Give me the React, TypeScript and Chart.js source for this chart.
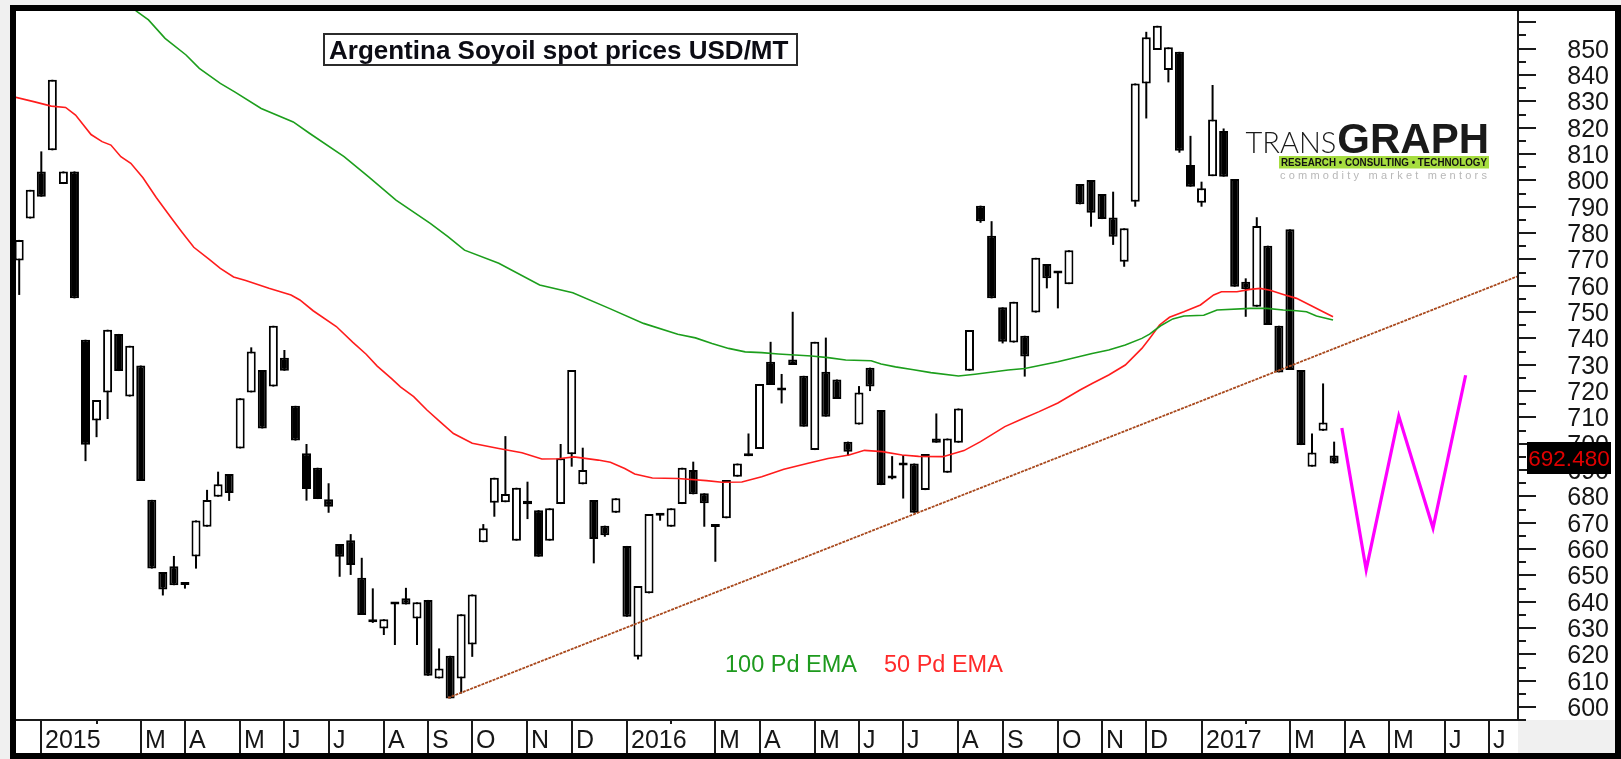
import React, { useEffect, useRef } from 'react';
import { Chart, registerables } from 'chart.js';

Chart.register(...registerables);

// ---------- DATA (weekly candles, index 0 = first week shown) ----------
const opens = [
  769.6, 785.5, 803.4, 811.4, 798.6, 803.4, 739.5, 708.8, 719.5, 741.7,
  717.9, 729.7, 678.7, 651.3, 653.5, 646.8, 657.2, 668.5, 679.9, 688.5,
  698.2, 719.5, 728.0, 721.7, 732.7, 714.4, 696.4, 690.9, 678.9, 661.9,
  663.4, 649.1, 632.6, 629.9, 639.2, 641.3, 633.7, 640.7, 610.9, 619.5,
  610.9, 623.8, 662.6, 677.6, 677.8, 663.2, 677.0, 674.8, 663.2, 677.1,
  696.0, 684.6, 678.6, 668.9, 673.8, 661.2, 619.1, 643.2, 673.6, 668.5,
  677.1, 690.0, 681.2, 668.6, 671.7, 687.5, 695.3, 698.0, 731.1, 720.2,
  732.0, 725.8, 697.6, 727.3, 724.4, 700.8, 707.3, 728.9, 712.8, 687.5,
  692.0, 692.5, 682.4, 702.0, 689.0, 700.4, 727.7, 790.4, 779.0, 751.8,
  738.4, 741.0, 749.8, 768.2, 765.0, 760.6, 798.6, 800.1, 794.8, 785.9,
  769.1, 791.9, 836.8, 849.5, 841.9, 848.8, 805.8, 791.5, 801.6, 818.7,
  800.5, 761.5, 752.0, 775.2, 744.8, 781.4, 728.0, 691.3, 704.9, 695.5,
];
const highs = [
  777.4, 796.4, 811.0, 838.2, 803.4, 803.4, 739.5, 716.6, 743.3, 741.7,
  737.2, 729.7, 678.7, 651.3, 657.4, 647.0, 670.9, 682.5, 689.4, 688.5,
  717.3, 736.6, 728.0, 744.8, 735.6, 714.4, 699.9, 690.9, 685.0, 661.9,
  665.7, 656.7, 645.1, 633.4, 639.3, 645.3, 639.8, 640.7, 622.3, 619.5,
  635.3, 642.8, 669.5, 687.1, 702.9, 683.3, 685.6, 674.8, 675.5, 699.9,
  728.0, 698.5, 678.6, 668.9, 679.3, 661.2, 646.0, 673.3, 673.6, 675.5,
  690.9, 693.2, 681.2, 668.6, 686.2, 692.5, 703.9, 722.7, 738.7, 726.5,
  750.1, 725.8, 738.7, 740.3, 724.4, 700.8, 721.9, 728.9, 712.8, 695.3,
  695.7, 692.5, 696.1, 711.5, 702.0, 713.4, 743.2, 790.4, 784.5, 751.8,
  753.9, 741.0, 770.6, 768.2, 765.2, 773.5, 798.6, 800.1, 794.8, 795.7,
  781.8, 836.8, 856.4, 858.7, 850.5, 848.8, 816.9, 799.5, 836.2, 819.7,
  800.5, 762.8, 786.0, 775.2, 744.8, 781.4, 728.0, 703.9, 722.9, 700.8,
];
const lows = [
  756.5, 785.5, 793.8, 811.4, 798.6, 755.2, 693.4, 702.5, 709.4, 727.6,
  717.9, 685.9, 652.6, 642.4, 646.3, 645.0, 652.6, 668.5, 679.9, 678.3,
  698.2, 719.5, 705.8, 721.7, 727.7, 701.2, 678.4, 679.0, 673.8, 649.5,
  650.2, 635.0, 632.0, 627.4, 623.6, 639.0, 623.6, 611.9, 610.9, 603.3,
  605.2, 619.1, 662.6, 672.3, 677.8, 663.2, 671.4, 657.1, 663.2, 677.1,
  691.3, 684.6, 654.6, 664.7, 673.8, 634.3, 618.1, 643.2, 670.8, 668.5,
  677.1, 680.8, 668.5, 655.2, 671.7, 687.5, 695.3, 698.0, 722.3, 715.3,
  729.9, 706.5, 697.6, 710.3, 717.0, 695.5, 707.3, 720.0, 684.3, 686.5,
  679.2, 673.8, 682.4, 700.4, 689.0, 700.4, 727.7, 783.9, 755.2, 738.1,
  738.4, 725.5, 749.8, 759.0, 751.4, 760.6, 790.9, 782.4, 785.3, 775.5,
  767.2, 790.0, 823.5, 849.5, 837.2, 810.5, 797.6, 790.0, 801.6, 801.4,
  759.6, 748.2, 752.0, 745.1, 727.1, 728.0, 699.5, 691.3, 704.9, 692.48,
];
const closes = [
  777.4, 796.4, 793.8, 838.2, 803.4, 755.2, 699.6, 716.6, 743.3, 727.6,
  737.2, 685.9, 652.6, 644.7, 646.3, 646.4, 670.9, 678.6, 684.6, 681.3,
  717.3, 735.0, 705.8, 744.8, 727.7, 701.2, 682.8, 679.0, 676.1, 657.1,
  654.0, 635.0, 632.2, 633.4, 639.0, 639.0, 639.8, 611.9, 614.7, 603.3,
  635.3, 642.8, 667.9, 687.1, 680.9, 683.3, 678.4, 657.1, 675.5, 694.5,
  728.0, 690.0, 663.8, 665.3, 679.3, 634.3, 646.0, 673.3, 672.7, 675.5,
  690.9, 680.8, 677.4, 668.4, 686.2, 692.5, 695.6, 722.7, 722.3, 720.6,
  729.9, 706.5, 738.7, 710.3, 717.0, 697.0, 719.5, 721.7, 684.3, 686.8,
  691.7, 673.8, 696.1, 700.4, 702.0, 713.4, 743.2, 784.5, 755.2, 738.7,
  753.9, 733.1, 770.6, 762.8, 764.6, 773.5, 790.9, 787.7, 785.3, 778.6,
  781.8, 836.8, 854.3, 858.7, 850.5, 811.2, 797.6, 797.0, 823.1, 801.4,
  759.6, 758.7, 782.7, 745.1, 727.1, 728.0, 699.5, 696.7, 708.1, 692.48,
];
const lastPrice = 692.48;

// 50 period EMA (red): [week index, value]
const ema50Points = [
  [-0.3, 831.5], [1.4, 829.8], [2.9, 828.2], [4.2, 827.7], [5.1, 824.8], [6.5, 817.4], [7.5, 814.7],
  [8.3, 813.4], [9.2, 809], [10.1, 806.5], [11.2, 801], [12.4, 793.5], [13.8, 785.5], [14.7, 780.5],
  [15.8, 774.6], [17.2, 770], [18.2, 766.6], [19.4, 763.3], [20.5, 762], [22.6, 759], [24.6, 756.5],
  [25.4, 754.6], [26.6, 750.5], [28.7, 744.5], [30.2, 738.5], [31.4, 734], [32.4, 729.5], [33.7, 724.7],
  [34.5, 721.6], [35.7, 717.9], [36.9, 712.8], [38.1, 708.3], [39.3, 703.9], [41, 700.2], [43.4, 698.2],
  [45.5, 696.6], [47.3, 694.2], [48.8, 694.3], [50.2, 695], [52.4, 693.8], [53.5, 693], [54.8, 690.6],
  [55.7, 688.5], [57.3, 687], [59.6, 686.8], [62.2, 686], [63.6, 685.4], [65.4, 685.5], [67.2, 687.5],
  [69.2, 690.3], [71.4, 692.6], [73.2, 694.4], [75.1, 695.7], [76.5, 697.5], [78.1, 697], [79.9, 695.7],
  [81.4, 695.2], [83.6, 695.1], [85.5, 697.4], [87, 700.8], [89.2, 706.5], [90.8, 709.5], [92.3, 712.2],
  [94, 715.5], [96, 720.4], [97.1, 722.9], [98.6, 726.1], [100.1, 729.9], [101.6, 736.2], [102.3, 740],
  [103.2, 745.1], [104.1, 748], [105.4, 750.1], [106.9, 752.7], [108.1, 756.5], [108.8, 757.7],
  [110.2, 757.7], [111.4, 758.6], [112.3, 759], [113.2, 758.3], [114.4, 756.7], [115.6, 755.2],
  [116.8, 752.7], [118, 750.1], [118.9, 748.2],
];
// 100 period EMA (green)
const ema100Points = [
  [9.4, 868], [10.7, 864], [11.7, 860.9], [13.2, 853.9], [15.1, 847.6], [16.3, 842.5], [18.2, 836.8],
  [19.5, 833.6], [21.9, 827.3], [24.8, 822.2], [26.3, 817.8], [29.4, 809], [31.6, 801.4], [34.1, 792.5],
  [37.2, 783.7], [38.8, 778.6], [40.3, 773.5], [43.4, 768.5], [47.1, 760.3], [50.1, 757.3], [53.4, 751.4],
  [56.5, 745.7], [59.6, 741.6], [61.2, 740.2], [62.7, 738.1], [64.2, 736.2], [65.7, 734.9], [67.2, 734.6],
  [68.7, 734.1], [70.2, 733.7], [71.7, 733.3], [73.2, 732.7], [74.8, 731.8], [77.1, 731.5], [78, 730.3],
  [79.3, 729.2], [80.8, 728.2], [82.5, 727], [85, 725.7], [86.5, 726.4], [89.5, 728], [91, 728.6],
  [94, 731.1], [97.1, 734.3], [98.6, 735.6], [100.1, 737.5], [101.6, 740], [102.3, 741.6], [103.3, 744.8],
  [104.4, 747.4], [105.4, 748.5], [107.2, 748.8], [108.4, 750.8], [111.4, 751.4], [112.9, 751.4],
  [114.4, 750.8], [115.6, 750.5], [116.5, 750.1], [117.4, 748.5], [118.9, 747],
];
// support trend line and projected "W" path
const trendPoints = [[38.8, 603.5], [135.55, 763.5]];
const wPoints = [[119.7, 706], [121.9, 652.2], [124.85, 710.5], [127.95, 668], [130.9, 726]];

// x-axis month ticks
const monthTickIdx = [2, 11, 15, 20, 24, 28, 33, 37, 41, 46, 50, 55, 63, 67, 72, 76, 80, 85, 89, 94, 98, 102, 107, 115, 120, 124, 129, 133];
const monthLabels = ['2015', 'M', 'A', 'M', 'J', 'J', 'A', 'S', 'O', 'N', 'D', '2016', 'M', 'A', 'M', 'J', 'J', 'A', 'S', 'O', 'N', 'D', '2017', 'M', 'A', 'M', 'J', 'J'];
const minorTickIdx = [7, 59, 111];
// y-axis labels
const yLabelValues = [600, 610, 620, 630, 640, 650, 660, 670, 680, 690, 700, 710, 720, 730, 740, 750, 760, 770, 780, 790, 800, 810, 820, 830, 840, 850];

const titleText = 'Argentina Soyoil spot prices USD/MT';
const ema100Label = '100 Pd EMA';
const ema50Label = '50 Pd EMA';

const FONT = '"Liberation Sans", Arial, Helvetica, sans-serif';

const W = 1621;
const H = 759;

const decorPlugin = {
  id: 'decor',
  beforeDraw(chart: any) {
    const { ctx, chartArea: ca } = chart;
    ctx.save();
    ctx.fillStyle = '#f0f0f0';
    ctx.fillRect(0, 0, W, H);
    ctx.fillStyle = '#000';
    ctx.fillRect(10, 5, W - 10, H - 5);
    ctx.fillStyle = '#fff';
    ctx.fillRect(16, 11, W - 6 - 16, H - 6 - 11);
    ctx.fillStyle = '#f0f0f0';
    ctx.fillRect(ca.right + 1, ca.bottom + 1, W - 6 - (ca.right + 1), H - 6 - (ca.bottom + 1));
    ctx.restore();
  },
  afterDraw(chart: any) {
    const { ctx, chartArea: ca, scales } = chart;
    const xs = scales.x;
    const ys = scales.y;
    ctx.save();
    ctx.strokeStyle = '#1a1a1a';
    ctx.fillStyle = '#1a1a1a';

    // axis lines
    ctx.lineWidth = 2;
    ctx.beginPath();
    ctx.moveTo(16, ca.bottom + 1);
    ctx.lineTo(ca.right + 2, ca.bottom + 1);
    ctx.stroke();
    ctx.beginPath();
    ctx.moveTo(ca.right + 1, ca.top);
    ctx.lineTo(ca.right + 1, ca.bottom + 2);
    ctx.stroke();

    // y ticks
    for (let v = 595; v <= 865; v += 5) {
      const y = Math.round(ys.getPixelForValue(v));
      if (y < ca.top + 2 || y > ca.bottom + 2) continue;
      const long = v % 10 === 0;
      ctx.beginPath();
      ctx.moveTo(ca.right, y);
      ctx.lineTo(ca.right + (long ? 19 : 9), y);
      ctx.stroke();
    }
    ctx.font = `25px ${FONT}`;
    ctx.textAlign = 'right';
    ctx.textBaseline = 'alphabetic';
    ctx.fillStyle = '#161616';
    for (const v of yLabelValues) {
      const y = ys.getPixelForValue(v);
      ctx.fillText(String(v), 1609, y + 9);
    }

    // x ticks
    ctx.textAlign = 'left';
    ctx.font = `25px ${FONT}`;
    monthTickIdx.forEach((idx, k) => {
      const x = Math.round(xs.getPixelForValue(idx));
      ctx.beginPath();
      ctx.moveTo(x, ca.bottom);
      ctx.lineTo(x, H - 6);
      ctx.stroke();
      ctx.fillText(monthLabels[k], x + 4, 748);
    });
    minorTickIdx.forEach((idx) => {
      const x = Math.round(xs.getPixelForValue(idx));
      ctx.beginPath();
      ctx.moveTo(x, ca.bottom);
      ctx.lineTo(x, ca.bottom + 5);
      ctx.stroke();
    });

    // title box
    ctx.fillStyle = '#fff';
    ctx.fillRect(323, 33, 475, 33);
    ctx.lineWidth = 2;
    ctx.strokeStyle = '#2b2b2b';
    ctx.strokeRect(324, 34, 473, 31);
    ctx.fillStyle = '#0c0c14';
    ctx.font = `bold 26px ${FONT}`;
    ctx.fillText(titleText, 329, 58.5, 463);

    // legend texts
    ctx.font = `23.5px ${FONT}`;
    ctx.fillStyle = '#1e9a1e';
    ctx.fillText(ema100Label, 725, 672);
    ctx.fillStyle = '#ff2a2a';
    ctx.fillText(ema50Label, 884, 672);

    // logo
    const logoRight = 1489;
    ctx.fillStyle = '#1a1a1a';
    ctx.textAlign = 'right';
    ctx.font = `bold 42px ${FONT}`;
    ctx.fillText('GRAPH', logoRight, 153);
    const gw = ctx.measureText('GRAPH').width;
    ctx.font = `300 29px Lato, "Open Sans", ${FONT}`;
    ctx.fillText('TRANS', logoRight - gw - 1, 152.5);
    ctx.textAlign = 'left';
    const bx = 1279;
    ctx.fillStyle = '#a6dd3f';
    ctx.fillRect(bx, 156, logoRight - bx, 12.5);
    ctx.fillStyle = '#111';
    ctx.font = `bold 10.5px ${FONT}`;
    ctx.fillText('RESEARCH \u2022 CONSULTING \u2022 TECHNOLOGY', bx + 2, 166.3, logoRight - bx - 4);
    ctx.fillStyle = '#b8b8b8';
    ctx.font = `11px ${FONT}`;
    const sub = 'commodity market mentors';
    const base = ctx.measureText(sub).width;
    const ls = Math.max(0, (logoRight - bx - 3 - base) / (sub.length - 1));
    (ctx as any).letterSpacing = `${ls.toFixed(2)}px`;
    ctx.fillText(sub, bx + 1, 178.5);
    (ctx as any).letterSpacing = '0px';

    // last price box
    ctx.fillStyle = '#000';
    ctx.fillRect(1527, 442, 84, 32);
    ctx.fillStyle = '#e00000';
    ctx.font = `22.5px ${FONT}`;
    ctx.textAlign = 'center';
    ctx.fillText(lastPrice.toFixed(3), 1569, 466, 82);

    ctx.restore();
  },
};

export default function App() {
  const ref = useRef<HTMLCanvasElement>(null);
  useEffect(() => {
    document.body.style.margin = '0';
    const weeks = opens.map((_, i) => i);
    const toXY = (pts: number[][]) => pts.map(([x, y]) => ({ x, y }));
    const chart = new Chart(ref.current as HTMLCanvasElement, {
      type: 'bar',
      data: {
        datasets: [
          {
            type: 'bar',
            label: 'wick',
            order: 4,
            data: weeks.map((i) => ({ x: i, y: [lows[i], highs[i]] })) as any,
            backgroundColor: '#000',
            borderWidth: 0,
            barThickness: 2,
            grouped: false,
            inflateAmount: 0,
          } as any,
          {
            type: 'bar',
            label: 'body',
            order: 3,
            data: weeks.map((i) => ({ x: i, y: [opens[i], closes[i]] })) as any,
            backgroundColor: weeks.map((i) => (closes[i] >= opens[i] ? '#ffffff' : '#000000')),
            borderColor: '#000',
            borderWidth: 2,
            borderSkipped: false,
            barThickness: 9,
            minBarLength: 3,
            grouped: false,
            inflateAmount: 0,
          } as any,
          {
            type: 'line',
            label: 'trend',
            order: 2,
            data: toXY(trendPoints) as any,
            borderColor: '#a8481c',
            borderWidth: 1.8,
            borderDash: [3, 1],
            pointRadius: 0,
            tension: 0,
          } as any,
          {
            type: 'line',
            label: ema100Label,
            order: 1,
            data: toXY(ema100Points) as any,
            borderColor: '#1c9e1c',
            borderWidth: 1.6,
            pointRadius: 0,
            tension: 0,
          } as any,
          {
            type: 'line',
            label: ema50Label,
            order: 1,
            data: toXY(ema50Points) as any,
            borderColor: '#ff1c1c',
            borderWidth: 1.6,
            pointRadius: 0,
            tension: 0,
          } as any,
          {
            type: 'line',
            label: 'projection',
            order: 0,
            data: toXY(wPoints) as any,
            borderColor: '#ff00ff',
            borderWidth: 3.2,
            pointRadius: 0,
            tension: 0,
            borderJoinStyle: 'miter',
          } as any,
        ],
      },
      options: {
        responsive: false,
        maintainAspectRatio: false,
        animation: false,
        devicePixelRatio: 1,
        events: [],
        layout: { padding: { left: 16, right: W - 1517, top: 11, bottom: H - 719 } },
        plugins: { legend: { display: false }, tooltip: { enabled: false }, title: { display: false } },
        scales: {
          x: { type: 'linear', min: -0.29, max: 135.55, display: false, offset: false, grid: { display: false } },
          y: { type: 'linear', min: 595.5, max: 864.3, display: false, grid: { display: false } },
        },
      } as any,
      plugins: [decorPlugin],
    });
    return () => chart.destroy();
  }, []);
  return <canvas ref={ref} width={W} height={H} style={{ display: 'block' }} />;
}
